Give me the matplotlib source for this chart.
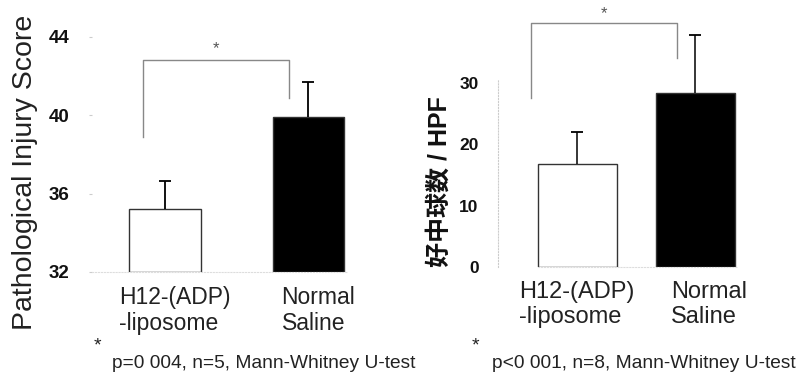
import matplotlib
matplotlib.use("Agg")
import matplotlib.pyplot as plt
from matplotlib.transforms import ScaledTranslation

plt.rcParams['font.family'] = ['Liberation Sans', 'DejaVu Sans']

categories = ["H12-(ADP)\n-liposome", "Normal\nSaline"]

# Left panel: pathological injury score
injury_mean = [35.2, 39.9]
injury_err = [1.45, 1.8]
injury_ticks = [32, 36, 40, 44]
injury_bracket = [38.9, 42.8, 40.9]   # left foot, top, right foot
injury_note = "p=0 004, n=5, Mann-Whitney U-test"

# Right panel: neutrophil count / HPF
neut_mean = [16.8, 28.4]
neut_err = [5.2, 9.4]
neut_ticks = [0, 10, 20, 30]
neut_bracket = [27.6, 39.8, 34.1]
neut_note = "p<0 001, n=8, Mann-Whitney U-test"

W, H = 797, 380
fig = plt.figure(figsize=(W / 100, H / 100), dpi=100)

def px_axes(l, r, t, b):
    return fig.add_axes([l / W, 1 - b / H, (r - l) / W, (b - t) / H])

bar_colors = ["white", "black"]
edge = "#333333"

def upper_errorbar(ax, xs, means, errs, lw, cs):
    eb = ax.errorbar(xs, means, yerr=[[0] * len(errs), errs], fmt='none',
                     ecolor='black', elinewidth=lw, capsize=cs, capthick=1.3,
                     zorder=3)
    caps = eb[1]
    if len(caps) == 2:
        caps[0].set_visible(False)

# ---------- left panel ----------
ax1 = px_axes(92, 350, 25, 272)
x = [0, 1]
ax1.bar(x, [m - 32 for m in injury_mean], bottom=32, width=0.5,
        color=bar_colors, edgecolor=edge, linewidth=1.0, zorder=2)
upper_errorbar(ax1, x, injury_mean, injury_err, 1.3, 4)
ax1.set_xlim(-0.51, 1.29)
ax1.set_ylim(32, 44.6)
ax1.set_yticks(injury_ticks)
ax1.set_yticklabels([str(t) for t in injury_ticks], fontweight='bold',
                    fontsize=13.5, color='#111111')
ax1.tick_params(axis='y', length=2, color='#cccccc', pad=14)
ax1.set_xticks(x)
ax1.set_xticklabels(categories, fontsize=16.5, multialignment='left',
                    color='#222222')
ax1.tick_params(axis='x', length=0, pad=10)
for lab in ax1.get_xticklabels():
    lab.set_transform(lab.get_transform() + ScaledTranslation(10 / 100, 0, fig.dpi_scale_trans))
for s in ['top', 'right', 'left']:
    ax1.spines[s].set_visible(False)
ax1.spines['bottom'].set_color('#dddddd')
ax1.spines['bottom'].set_linestyle(':')
ax1.spines['bottom'].set_bounds(-0.51, 1.27)
ax1.set_ylabel("Pathological Injury Score", fontsize=20.5, va='center',
               color='#222222')
ax1.yaxis.set_label_coords(-0.26, 0.405)
bx = [-0.154, -0.154, 0.867, 0.867]
by = [injury_bracket[0], injury_bracket[1], injury_bracket[1], injury_bracket[2]]
ax1.plot(bx, by, color='#888888', lw=1.0, clip_on=False)
ax1.text(0.357, 43.4, "*", ha='center', va='center', fontsize=12, color='#555555')

# ---------- right panel ----------
ax2 = px_axes(498, 740, 22, 267)
ax2.bar(x, neut_mean, width=0.67, color=bar_colors, edgecolor=edge,
        linewidth=1.0, zorder=2)
upper_errorbar(ax2, x, neut_mean, neut_err, 1.1, 4)
ax2.set_xlim(-0.67, 1.38)
ax2.set_ylim(0, 40)
ax2.set_yticks(neut_ticks)
ax2.set_yticklabels([str(t) for t in neut_ticks], fontweight='bold', fontsize=12.5,
                    color='#111111')
ax2.tick_params(axis='y', length=0, pad=14)
ax2.set_xticks(x)
ax2.set_xticklabels(categories, fontsize=17, multialignment='left',
                    color='#222222')
ax2.tick_params(axis='x', length=0, pad=10)
offs = [0, 14]
for lab, o in zip(ax2.get_xticklabels(), offs):
    lab.set_transform(lab.get_transform() + ScaledTranslation(o / 100, 0, fig.dpi_scale_trans))
for s in ['top', 'right']:
    ax2.spines[s].set_visible(False)
ax2.spines['left'].set_color('#cccccc')
ax2.spines['left'].set_linestyle(':')
ax2.spines['left'].set_bounds(0, 30.5)
ax2.spines['bottom'].set_color('#dddddd')
ax2.spines['bottom'].set_linestyle(':')
ax2.spines['bottom'].set_bounds(-0.33, 1.36)
ax2.set_ylabel("好中球数 / HPF", fontsize=18, va='center', color='#111111',
               fontfamily=['Liberation Sans', 'Noto Sans CJK JP'], fontweight='bold')
ax2.yaxis.set_label_coords(-0.24, 0.35)
bx = [-0.39, -0.39, 0.847, 0.847]
by = [neut_bracket[0], neut_bracket[1], neut_bracket[1], neut_bracket[2]]
ax2.plot(bx, by, color='#888888', lw=1.0, clip_on=False)
ax2.text(0.228, 41.4, "*", ha='center', va='center', fontsize=12,
         color='#555555', clip_on=False)

# ---------- footnotes ----------
fig.text(94 / W, 1 - 346 / H, "*", fontsize=14, ha='left', va='center', color='#222222')
fig.text(112 / W, 1 - 363 / H, injury_note, fontsize=13.8, ha='left', va='center',
         color='#222222')
fig.text(472 / W, 1 - 346 / H, "*", fontsize=14, ha='left', va='center', color='#222222')
fig.text(492 / W, 1 - 363 / H, neut_note, fontsize=13.8, ha='left', va='center',
         color='#222222')

fig.savefig("out.png", dpi=100)
